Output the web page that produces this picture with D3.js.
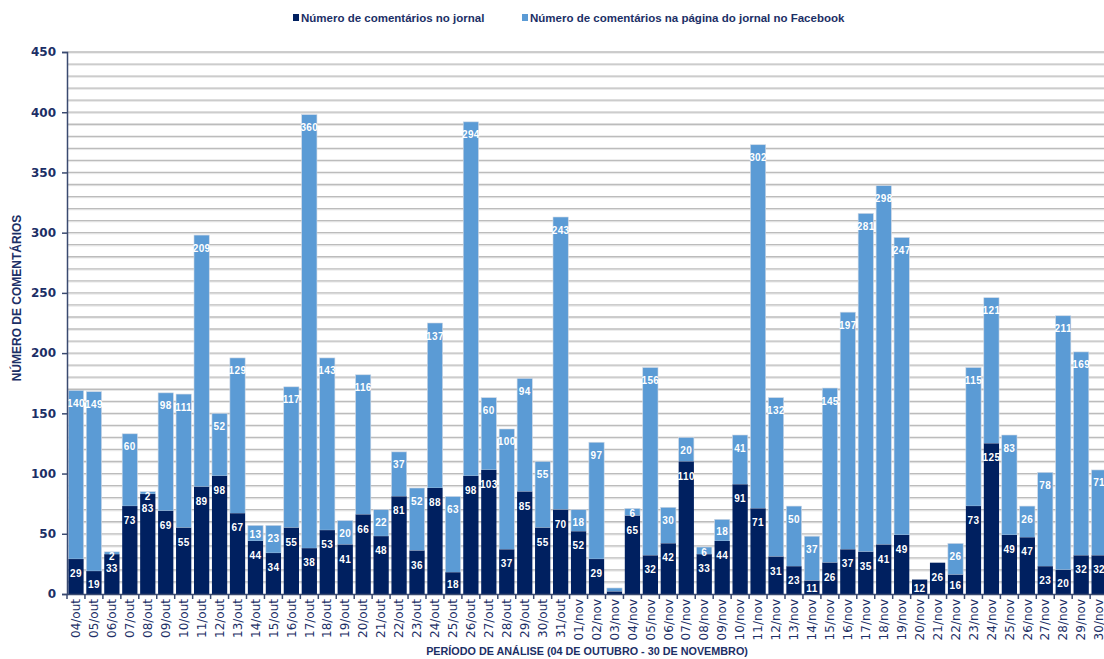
<!DOCTYPE html>
<html><head><meta charset="utf-8">
<script src="https://cdn.jsdelivr.net/npm/d3@7"></script>
<style>body{margin:0;background:#fff}svg{display:block}</style>
</head><body>
<svg id="c" width="1104" height="659"></svg>
<script>
const categories = ["04/out","05/out","06/out","07/out","08/out","09/out","10/out","11/out","12/out","13/out","14/out","15/out","16/out","17/out","18/out","19/out","20/out","21/out","22/out","23/out","24/out","25/out","26/out","27/out","28/out","29/out","30/out","31/out","01/nov","02/nov","03/nov","04/nov","05/nov","06/nov","07/nov","08/nov","09/nov","10/nov","11/nov","12/nov","13/nov","14/nov","15/nov","16/nov","17/nov","18/nov","19/nov","20/nov","21/nov","22/nov","23/nov","24/nov","25/nov","26/nov","27/nov","28/nov","29/nov","30/nov"];
const jornal = [29,19,33,73,83,69,55,89,98,67,44,34,55,38,53,41,66,48,81,36,88,18,98,103,37,85,55,70,52,29,2,65,32,42,110,33,44,91,71,31,23,11,26,37,35,41,49,12,26,16,73,125,49,47,23,20,32,32];
const facebook = [140,149,2,60,2,98,111,209,52,129,13,23,117,360,143,20,116,22,37,52,137,63,294,60,100,94,55,243,18,97,3,6,156,30,20,6,18,41,302,132,50,37,145,197,281,298,247,0,0,26,115,121,83,26,78,211,169,71];
const seriesNames = ["Número de comentários no jornal","Número de comentários na página do jornal no Facebook"];
const yTicks = [0,50,100,150,200,250,300,350,400,450];
const colors = ["#002060","#5b9bd5"];
const navy = "#1c2f66";

const svg = d3.select("#c");
const x0 = 67, x1 = 67 + 58*17.95, yb = 594, yt = 52;
const x = d3.scaleBand().domain(categories).range([x0, x1]).paddingInner(0.15).paddingOuter(0.075);
const y = d3.scaleLinear().domain([0,450]).range([yb, yt]);

// gridlines every 10
const g = svg.append("g");
for (let v = 10; v <= 450; v += 10) {
  g.append("line").attr("x1", x0).attr("x2", 1104).attr("y1", y(v)+1.2).attr("y2", y(v)+1.2).attr("stroke", "#e6e6e6").attr("stroke-width", 1);
  g.append("line").attr("x1", x0).attr("x2", 1104).attr("y1", y(v)).attr("y2", y(v)).attr("stroke", "#bcbcbc").attr("stroke-width", 1.3);
}

// bars
const data = categories.map((c,i)=>({c, a: jornal[i], b: facebook[i]}));
const bars = svg.append("g");
data.forEach(d => {
  bars.append("rect").attr("x", x(d.c)).attr("width", x.bandwidth())
    .attr("y", y(d.a + d.b)).attr("height", y(d.a) - y(d.a + d.b))
    .attr("fill", colors[1]).attr("stroke", "#cfd8e4").attr("stroke-width", 0.6);
  bars.append("rect").attr("x", x(d.c)).attr("width", x.bandwidth())
    .attr("y", y(d.a)).attr("height", yb - y(d.a))
    .attr("fill", colors[0]);
});
// labels (inside end)
const lab = svg.append("g").attr("font-family", "Liberation Sans, Arial, sans-serif").attr("font-weight", "bold").attr("font-size", 10).attr("fill", "#fff").attr("text-anchor", "middle").attr("letter-spacing", 0.4);
data.forEach(d => {
  const cx = x(d.c) + x.bandwidth()/2;
  if (d.a + d.b < 8) return;
  if (d.b > 0) {
    const top = y(d.a + d.b), h = y(d.a) - top;
    lab.append("text").attr("x", cx).attr("y", top + Math.min(13, Math.max(h/2 + 1.5, 4.5))).attr("dy", "0.35em").text(d.b);
  }
  const top = y(d.a), h = yb - top;
  lab.append("text").attr("x", cx).attr("y", top + Math.min(14.5, h/2 + 1.5)).attr("dy", "0.35em").text(d.a);
});

// axes
const ya = svg.append("g").attr("transform", `translate(${x0},0)`)
  .call(d3.axisLeft(y).tickValues(yTicks).tickSize(5).tickPadding(6));
ya.select(".domain").attr("stroke", "#3a4a70").attr("stroke-width", 1.5);
ya.selectAll(".tick line").attr("stroke", "#3a4a70").attr("stroke-width", 1.5);
ya.selectAll("text").attr("font-family", "DejaVu Sans, Verdana, sans-serif").attr("font-weight", "bold").attr("font-size", 12).attr("fill", navy);

const xa = svg.append("g").attr("transform", `translate(0,${yb})`)
  .call(d3.axisBottom(x).tickSize(0).tickPadding(0));
xa.select(".domain").attr("stroke", "#3a4a70").attr("stroke-width", 1.5);
xa.selectAll(".tick text").attr("font-family", "DejaVu Sans, Verdana, sans-serif").attr("font-size", 12).attr("fill", navy)
  .attr("transform", "rotate(-90)").attr("text-anchor", "end").attr("dx", "-5").attr("dy", "0.35em").attr("x", 0).attr("y", 0);
// band-boundary ticks
const tb = svg.append("g");
categories.forEach((c,i) => {
  const xx = x(c) - x.step()*x.paddingInner()/2;
  tb.append("line").attr("x1", xx).attr("x2", xx).attr("y1", yb).attr("y2", yb+5).attr("stroke", "#3a4a70").attr("stroke-width", 1.5);
});

// titles
svg.append("text").attr("transform", "translate(21,298) rotate(-90)").attr("text-anchor", "middle")
  .attr("font-family", "Liberation Sans, Arial, sans-serif").attr("font-weight", "bold").attr("font-size", 12).attr("fill", navy)
  .text("NÚMERO DE COMENTÁRIOS");
svg.append("text").attr("x", 587).attr("y", 655).attr("text-anchor", "middle")
  .attr("font-family", "Liberation Sans, Arial, sans-serif").attr("font-weight", "bold").attr("font-size", 10.8).attr("fill", navy)
  .text("PERÍODO DE ANÁLISE (04 DE OUTUBRO - 30 DE NOVEMBRO)");

// legend
const lg = svg.append("g").attr("font-family", "Liberation Sans, Arial, sans-serif").attr("font-weight", "bold").attr("font-size", 11.5).attr("fill", navy);
const lx = [293, 522];
seriesNames.forEach((n,i) => {
  lg.append("rect").attr("x", lx[i]).attr("y", 14).attr("width", 6).attr("height", 7).attr("fill", colors[i]);
  lg.append("text").attr("x", lx[i]+8).attr("y", 22).text(n);
});
</script>
</body></html>
